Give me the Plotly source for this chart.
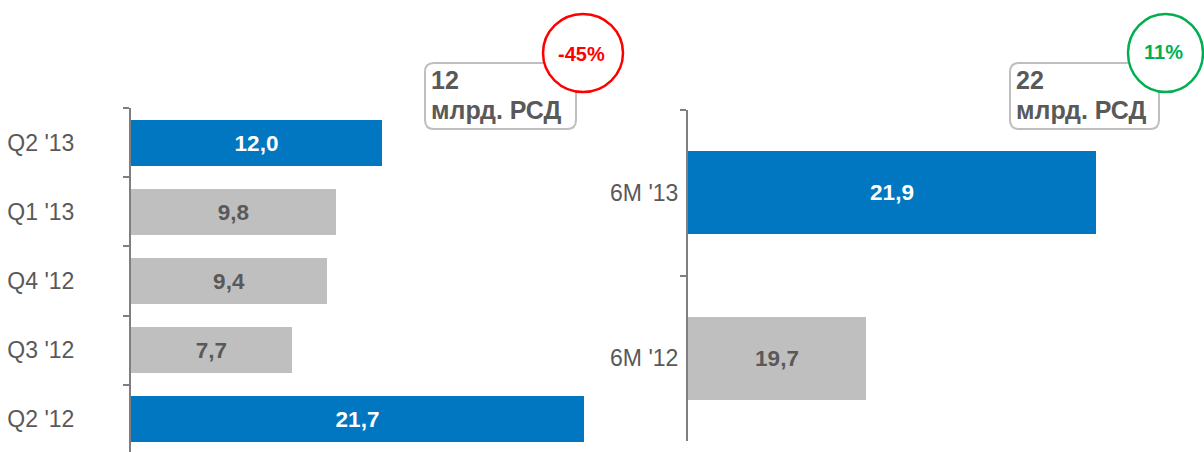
import plotly.graph_objects as go

W, H = 1204, 452

# ---- data ----
q_categories = ["Q2 '13", "Q1 '13", "Q4 '12", "Q3 '12", "Q2 '12"]
q_values = [12.0, 9.8, 9.4, 7.7, 21.7]
q_highlight = [True, False, False, False, True]

h_categories = ["6M '13", "6M '12"]
h_values = [21.9, 19.7]
h_highlight = [True, False]
h_axis_start = 18

callout_left = ["12", "млрд. РСД"]
callout_right = ["22", "млрд. РСД"]
change_left = "-45%"
change_right = "11%"

BLUE = "#0077C0"
GRAY = "#BFBFBF"
DARK = "#595959"
AXIS = "#7F7F7F"
FONT = "Liberation Sans, Arial, sans-serif"


def fmt(v):
    return f"{v:.1f}".replace(".", ",")


def px(x):
    return x / W


def py(y):
    return 1 - y / H


fig = go.Figure()

fig.add_trace(go.Bar(
    y=q_categories, x=q_values, orientation="h",
    marker=dict(color=[BLUE if h else GRAY for h in q_highlight], line=dict(width=0)),
    width=0.665,
    text=[fmt(v) for v in q_values], textposition="inside", insidetextanchor="middle",
    textangle=0,
    textfont=dict(family=FONT, size=22.5, color=["white" if h else DARK for h in q_highlight],
                  weight="bold"),
    xaxis="x", yaxis="y", hoverinfo="skip", showlegend=False,
))

fig.add_trace(go.Bar(
    y=h_categories, x=[v - h_axis_start for v in h_values], orientation="h",
    base=h_axis_start,
    marker=dict(color=[BLUE if h else GRAY for h in h_highlight], line=dict(width=0)),
    width=0.5,
    text=[fmt(v) for v in h_values], textposition="inside", insidetextanchor="middle",
    textangle=0,
    textfont=dict(family=FONT, size=22.5, color=["white" if h else DARK for h in h_highlight],
                  weight="bold"),
    xaxis="x2", yaxis="y2", hoverinfo="skip", showlegend=False,
))

axis_common = dict(showgrid=False, zeroline=False, showticklabels=False, ticks="",
                   showline=False, fixedrange=True)
yaxis_common = dict(type="category", showgrid=False, zeroline=False, showline=True,
                    linecolor=AXIS, linewidth=2, ticks="outside", ticklen=6,
                    tickcolor=AXIS, tickwidth=2, tickson="boundaries",
                    tickfont=dict(family=FONT, size=23, color=DARK),
                    automargin=False, fixedrange=True)

fig.update_layout(
    width=W, height=H,
    margin=dict(l=0, r=0, t=0, b=0),
    paper_bgcolor="white", plot_bgcolor="white",
    xaxis=dict(domain=[px(131), px(620)], range=[0, 489 / 20.88], anchor="y", **axis_common),
    yaxis=dict(domain=[0, py(108)], range=[-0.5 + 344 / 69.2, -0.5], anchor="x",
               ticklabelstandoff=50, **yaxis_common),
    xaxis2=dict(domain=[px(688), 1], range=[h_axis_start, h_axis_start + 516 / 104.5],
                anchor="y2", **axis_common),
    yaxis2=dict(domain=[py(441), py(110)], range=[1.5, -0.5], anchor="x2",
                ticklabelstandoff=3, **yaxis_common),
    bargap=0,
)


def rounded_rect(x0, y0, x1, y1, r):
    X0, X1 = px(x0), px(x1)
    Y0, Y1 = py(y0), py(y1)
    rx, ry = r / W, r / H
    return (f"M {X0+rx},{Y0} L {X1-rx},{Y0} Q {X1},{Y0} {X1},{Y0-ry} "
            f"L {X1},{Y1+ry} Q {X1},{Y1} {X1-rx},{Y1} "
            f"L {X0+rx},{Y1} Q {X0},{Y1} {X0},{Y1+ry} "
            f"L {X0},{Y0-ry} Q {X0},{Y0} {X0+rx},{Y0} Z")


shapes = []
for (bx0, bx1, cx0, cx1, col) in [(425, 576, 543, 623, "#FF0000"),
                                  (1010, 1159, 1128, 1203, "#00B050")]:
    shapes.append(dict(type="path", xref="paper", yref="paper",
                       path=rounded_rect(bx0, 63, bx1, 129, 9),
                       line=dict(color="#BFBFBF", width=2), fillcolor="white"))
    shapes.append(dict(type="circle", xref="paper", yref="paper",
                       x0=px(cx0), x1=px(cx1), y0=py(92), y1=py(14),
                       line=dict(color=col, width=2.5), fillcolor="white"))
fig.update_layout(shapes=shapes)

annotations = []
for (tx, lines) in [(429, callout_left), (1014, callout_right)]:
    annotations.append(dict(x=px(tx), y=py(80), xref="paper", yref="paper",
                            text=f"<b>{lines[0]}</b>", showarrow=False,
                            xanchor="left", yanchor="middle",
                            font=dict(family=FONT, size=25, color=DARK)))
    annotations.append(dict(x=px(tx), y=py(110), xref="paper", yref="paper",
                            text=f"<b>{lines[1]}</b>", showarrow=False,
                            xanchor="left", yanchor="middle",
                            font=dict(family=FONT, size=25, color=DARK)))
annotations.append(dict(x=px(581), y=py(54), xref="paper", yref="paper",
                        text=f"<b>{change_left}</b>", showarrow=False,
                        xanchor="center", yanchor="middle",
                        font=dict(family=FONT, size=20, color="#FF0000")))
annotations.append(dict(x=px(1163), y=py(52), xref="paper", yref="paper",
                        text=f"<b>{change_right}</b>", showarrow=False,
                        xanchor="center", yanchor="middle",
                        font=dict(family=FONT, size=20, color="#00B050")))
fig.update_layout(annotations=annotations)

fig.write_html("out.html")
